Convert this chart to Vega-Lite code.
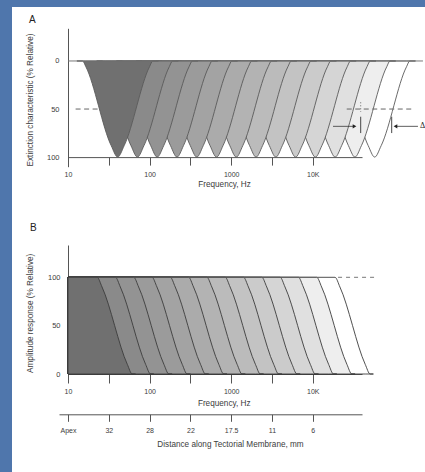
{
  "$schema": "https://vega.github.io/schema/vega-lite/v6.json",
  "background": "#4f76ac",
  "padding": {"left": 12, "top": 7, "right": 0, "bottom": 0},
  "bounds": "flush",
  "spacing": 0,
  "config": {
    "view": {"fill": "white", "stroke": null},
    "font": "Liberation Sans",
    "axis": {
      "labelFont": "Liberation Sans", "titleFont": "Liberation Sans",
      "labelColor": "#3c3c3c", "titleColor": "#3c3c3c",
      "labelFontSize": 7, "titleFontSize": 8.2, "titleFontWeight": "normal",
      "domainColor": "#555555", "tickColor": "#555555", "grid": false,
      "labelFlush": false, "labelOverlap": false, "labelBound": false
    }
  },
  "datasets": {
    "curvesA": [
      {"curve":14,"frequency":18145,"extinction":0},{"curve":14,"frequency":21319,"extinction":0},{"curve":14,"frequency":23375,"extinction":6},{"curve":14,"frequency":47726,"extinction":88},{"curve":14,"frequency":57380,"extinction":100},{"curve":14,"frequency":68986,"extinction":88},{"curve":14,"frequency":140851,"extinction":6},{"curve":14,"frequency":154440,"extinction":0},{"curve":14,"frequency":181452,"extinction":0},
      {"curve":13,"frequency":10387,"extinction":0},{"curve":13,"frequency":12203,"extinction":0},{"curve":13,"frequency":13380,"extinction":6},{"curve":13,"frequency":27319,"extinction":88},{"curve":13,"frequency":32845,"extinction":100},{"curve":13,"frequency":39488,"extinction":88},{"curve":13,"frequency":80625,"extinction":6},{"curve":13,"frequency":88403,"extinction":0},{"curve":13,"frequency":103866,"extinction":0},
      {"curve":12,"frequency":5945,"extinction":0},{"curve":12,"frequency":6985,"extinction":0},{"curve":12,"frequency":7659,"extinction":6},{"curve":12,"frequency":15638,"extinction":88},{"curve":12,"frequency":18801,"extinction":100},{"curve":12,"frequency":22604,"extinction":88},{"curve":12,"frequency":46151,"extinction":6},{"curve":12,"frequency":50603,"extinction":0},{"curve":12,"frequency":59454,"extinction":0},
      {"curve":11,"frequency":3403,"extinction":0},{"curve":11,"frequency":3999,"extinction":0},{"curve":11,"frequency":4384,"extinction":6},{"curve":11,"frequency":8951,"extinction":88},{"curve":11,"frequency":10762,"extinction":100},{"curve":11,"frequency":12939,"extinction":88},{"curve":11,"frequency":26418,"extinction":6},{"curve":11,"frequency":28966,"extinction":0},{"curve":11,"frequency":34033,"extinction":0},
      {"curve":10,"frequency":1948,"extinction":0},{"curve":10,"frequency":2289,"extinction":0},{"curve":10,"frequency":2510,"extinction":6},{"curve":10,"frequency":5124,"extinction":88},{"curve":10,"frequency":6160,"extinction":100},{"curve":10,"frequency":7406,"extinction":88},{"curve":10,"frequency":15121,"extinction":6},{"curve":10,"frequency":16580,"extinction":0},{"curve":10,"frequency":19480,"extinction":0},
      {"curve":9,"frequency":1115,"extinction":0},{"curve":9,"frequency":1310,"extinction":0},{"curve":9,"frequency":1436,"extinction":6},{"curve":9,"frequency":2933,"extinction":88},{"curve":9,"frequency":3526,"extinction":100},{"curve":9,"frequency":4239,"extinction":88},{"curve":9,"frequency":8655,"extinction":6},{"curve":9,"frequency":9490,"extinction":0},{"curve":9,"frequency":11150,"extinction":0},
      {"curve":8,"frequency":638.3,"extinction":0},{"curve":8,"frequency":749.9,"extinction":0},{"curve":8,"frequency":822.3,"extinction":6},{"curve":8,"frequency":1679,"extinction":88},{"curve":8,"frequency":2018.5,"extinction":100},{"curve":8,"frequency":2427,"extinction":88},{"curve":8,"frequency":4955,"extinction":6},{"curve":8,"frequency":5433,"extinction":0},{"curve":8,"frequency":6383,"extinction":0},
      {"curve":7,"frequency":365.4,"extinction":0},{"curve":7,"frequency":429.3,"extinction":0},{"curve":7,"frequency":470.7,"extinction":6},{"curve":7,"frequency":961,"extinction":88},{"curve":7,"frequency":1155.4,"extinction":100},{"curve":7,"frequency":1389,"extinction":88},{"curve":7,"frequency":2836,"extinction":6},{"curve":7,"frequency":3110,"extinction":0},{"curve":7,"frequency":3654,"extinction":0},
      {"curve":6,"frequency":209.2,"extinction":0},{"curve":6,"frequency":245.7,"extinction":0},{"curve":6,"frequency":269.4,"extinction":6},{"curve":6,"frequency":550.1,"extinction":88},{"curve":6,"frequency":661.4,"extinction":100},{"curve":6,"frequency":795.2,"extinction":88},{"curve":6,"frequency":1623.5,"extinction":6},{"curve":6,"frequency":1780,"extinction":0},{"curve":6,"frequency":2091.5,"extinction":0},
      {"curve":5,"frequency":119.7,"extinction":0},{"curve":5,"frequency":140.7,"extinction":0},{"curve":5,"frequency":154.2,"extinction":6},{"curve":5,"frequency":314.9,"extinction":88},{"curve":5,"frequency":378.6,"extinction":100},{"curve":5,"frequency":455.2,"extinction":88},{"curve":5,"frequency":929.4,"extinction":6},{"curve":5,"frequency":1019,"extinction":0},{"curve":5,"frequency":1197,"extinction":0},
      {"curve":4,"frequency":68.53,"extinction":0},{"curve":4,"frequency":80.51,"extinction":0},{"curve":4,"frequency":88.28,"extinction":6},{"curve":4,"frequency":180.2,"extinction":88},{"curve":4,"frequency":216.7,"extinction":100},{"curve":4,"frequency":260.5,"extinction":88},{"curve":4,"frequency":531.9,"extinction":6},{"curve":4,"frequency":583.3,"extinction":0},{"curve":4,"frequency":685.3,"extinction":0},
      {"curve":3,"frequency":39.21,"extinction":0},{"curve":3,"frequency":46.07,"extinction":0},{"curve":3,"frequency":50.52,"extinction":6},{"curve":3,"frequency":103.1,"extinction":88},{"curve":3,"frequency":124,"extinction":100},{"curve":3,"frequency":149.1,"extinction":88},{"curve":3,"frequency":304.4,"extinction":6},{"curve":3,"frequency":333.8,"extinction":0},{"curve":3,"frequency":392.1,"extinction":0},
      {"curve":2,"frequency":22.45,"extinction":0},{"curve":2,"frequency":26.38,"extinction":0},{"curve":2,"frequency":28.92,"extinction":6},{"curve":2,"frequency":59.06,"extinction":88},{"curve":2,"frequency":71,"extinction":100},{"curve":2,"frequency":85.36,"extinction":88},{"curve":2,"frequency":174.3,"extinction":6},{"curve":2,"frequency":191.1,"extinction":0},{"curve":2,"frequency":224.5,"extinction":0},
      {"curve":1,"frequency":12.85,"extinction":0},{"curve":1,"frequency":15.1,"extinction":0},{"curve":1,"frequency":16.56,"extinction":6},{"curve":1,"frequency":33.8,"extinction":88},{"curve":1,"frequency":40.64,"extinction":100},{"curve":1,"frequency":48.86,"extinction":88},{"curve":1,"frequency":99.76,"extinction":6},{"curve":1,"frequency":109.4,"extinction":0},{"curve":1,"frequency":128.5,"extinction":0}
    ],
    "curvesB": [
      {"curve":14,"frequency":10,"amplitude":100},{"curve":14,"frequency":18729,"amplitude":100},{"curve":14,"frequency":21504,"amplitude":90},{"curve":14,"frequency":43905,"amplitude":10},{"curve":14,"frequency":50409,"amplitude":0},{"curve":14,"frequency":55273,"amplitude":0},
      {"curve":13,"frequency":10,"amplitude":100},{"curve":13,"frequency":11175,"amplitude":100},{"curve":13,"frequency":12831,"amplitude":90},{"curve":13,"frequency":26197,"amplitude":10},{"curve":13,"frequency":30078,"amplitude":0},{"curve":13,"frequency":32980,"amplitude":0},
      {"curve":12,"frequency":10,"amplitude":100},{"curve":12,"frequency":6668,"amplitude":100},{"curve":12,"frequency":7656,"amplitude":90},{"curve":12,"frequency":15631,"amplitude":10},{"curve":12,"frequency":17947,"amplitude":0},{"curve":12,"frequency":19679,"amplitude":0},
      {"curve":11,"frequency":10,"amplitude":100},{"curve":11,"frequency":3978,"amplitude":100},{"curve":11,"frequency":4567,"amplitude":90},{"curve":11,"frequency":9325,"amplitude":10},{"curve":11,"frequency":10707,"amplitude":0},{"curve":11,"frequency":11740,"amplitude":0},
      {"curve":10,"frequency":10,"amplitude":100},{"curve":10,"frequency":2374,"amplitude":100},{"curve":10,"frequency":2726,"amplitude":90},{"curve":10,"frequency":5565,"amplitude":10},{"curve":10,"frequency":6390,"amplitude":0},{"curve":10,"frequency":7006,"amplitude":0},
      {"curve":9,"frequency":10,"amplitude":100},{"curve":9,"frequency":1416,"amplitude":100},{"curve":9,"frequency":1626,"amplitude":90},{"curve":9,"frequency":3319,"amplitude":10},{"curve":9,"frequency":3811,"amplitude":0},{"curve":9,"frequency":4179,"amplitude":0},
      {"curve":8,"frequency":10,"amplitude":100},{"curve":8,"frequency":845.1,"amplitude":100},{"curve":8,"frequency":970.3,"amplitude":90},{"curve":8,"frequency":1981,"amplitude":10},{"curve":8,"frequency":2275,"amplitude":0},{"curve":8,"frequency":2494,"amplitude":0},
      {"curve":7,"frequency":10,"amplitude":100},{"curve":7,"frequency":504.2,"amplitude":100},{"curve":7,"frequency":578.9,"amplitude":90},{"curve":7,"frequency":1182,"amplitude":10},{"curve":7,"frequency":1357,"amplitude":0},{"curve":7,"frequency":1488,"amplitude":0},
      {"curve":6,"frequency":10,"amplitude":100},{"curve":6,"frequency":300.8,"amplitude":100},{"curve":6,"frequency":345.4,"amplitude":90},{"curve":6,"frequency":705.1,"amplitude":10},{"curve":6,"frequency":809.6,"amplitude":0},{"curve":6,"frequency":887.7,"amplitude":0},
      {"curve":5,"frequency":10,"amplitude":100},{"curve":5,"frequency":179.5,"amplitude":100},{"curve":5,"frequency":206.1,"amplitude":90},{"curve":5,"frequency":420.8,"amplitude":10},{"curve":5,"frequency":483.1,"amplitude":0},{"curve":5,"frequency":529.7,"amplitude":0},
      {"curve":4,"frequency":10,"amplitude":100},{"curve":4,"frequency":107.1,"amplitude":100},{"curve":4,"frequency":123,"amplitude":90},{"curve":4,"frequency":251.1,"amplitude":10},{"curve":4,"frequency":288.3,"amplitude":0},{"curve":4,"frequency":316.1,"amplitude":0},
      {"curve":3,"frequency":10,"amplitude":100},{"curve":3,"frequency":63.9,"amplitude":100},{"curve":3,"frequency":73.37,"amplitude":90},{"curve":3,"frequency":149.8,"amplitude":10},{"curve":3,"frequency":172,"amplitude":0},{"curve":3,"frequency":188.6,"amplitude":0},
      {"curve":2,"frequency":10,"amplitude":100},{"curve":2,"frequency":38.13,"amplitude":100},{"curve":2,"frequency":43.78,"amplitude":90},{"curve":2,"frequency":89.39,"amplitude":10},{"curve":2,"frequency":102.6,"amplitude":0},{"curve":2,"frequency":112.5,"amplitude":0},
      {"curve":1,"frequency":10,"amplitude":100},{"curve":1,"frequency":22.75,"amplitude":100},{"curve":1,"frequency":26.12,"amplitude":90},{"curve":1,"frequency":53.33,"amplitude":10},{"curve":1,"frequency":61.23,"amplitude":0},{"curve":1,"frequency":67.14,"amplitude":0}
    ]
  },
  "vconcat": [
    {
      "width": 413,
      "height": 198,
      "title": {"text": "A", "anchor": "start", "frame": "group", "dx": 17, "offset": -22.5, "baseline": "middle", "fontSize": 10, "fontWeight": "normal", "font": "Liberation Sans", "color": "#222222"},
      "layer": [
        {
          "data": {"name": "curvesA"},
          "mark": {"type": "area", "interpolate": "monotone", "stroke": "#5a5a5a", "strokeWidth": 0.9},
          "encoding": {
            "x": {"field": "frequency", "type": "quantitative",
                  "scale": {"type": "log", "domain": [10, 40100], "range": [56, 350], "nice": false},
                  "axis": {"orient": "bottom", "offset": -47.9, "values": [10, 31.62, 100, 316.2, 1000, 3162, 10000],
                           "labelExpr": "datum.value == 10 ? '10' : datum.value == 100 ? '100' : datum.value == 1000 ? '1000' : datum.value == 10000 ? '10K' : ''",
                           "tickSize": 8, "labelPadding": 9.7, "labelBaseline": "middle",
                           "title": "Frequency, Hz", "titleX": 212, "titleY": 27.7, "titleAlign": "center", "titleBaseline": "middle"}},
            "y": {"field": "extinction", "type": "quantitative", "stack": null,
                  "scale": {"domain": [-34, 110], "range": [21.3, 159.7], "nice": false, "zero": false},
                  "axis": {"orient": "left", "offset": -56, "values": [0, 50, 100], "tickSize": 0, "labelPadding": 9, "labelFontSize": 7.5,
                           "title": "Extinction characteristic (% Relative)", "titleX": -38, "titleY": 92.5, "titleAngle": 270, "titleAlign": "center", "titleBaseline": "middle"}},
            "color": {"field": "curve", "type": "ordinal", "legend": null,
                      "scale": {"domain": [1,2,3,4,5,6,7,8,9,10,11,12,13,14],
                                "range": ["#707070","#8a8a8a","#939393","#9b9b9b","#a3a3a3","#ababab","#b3b3b3","#bbbbbb","#c3c3c3","#cbcbcb","#d5d5d5","#e0e0e0","#eeeeee","#ffffff"]}}
          }
        },
        {
          "data": {"values": [{"from": 10, "to": 224000, "level": 0}]},
          "mark": {"type": "rule", "color": "#777777", "strokeWidth": 1},
          "encoding": {
            "x": {"field": "from", "type": "quantitative", "scale": {"type": "log", "domain": [10, 40100], "range": [56, 350], "nice": false}},
            "x2": {"field": "to"},
            "y": {"field": "level", "type": "quantitative", "scale": {"domain": [-34, 110], "range": [21.3, 159.7], "nice": false, "zero": false}}
          }
        },
        {
          "data": {"values": [{"from": 12.4, "to": 25, "level": 50}, {"from": 26060, "to": 162600, "level": 50}]},
          "mark": {"type": "rule", "color": "#666666", "strokeWidth": 1, "strokeDash": [5, 3.5]},
          "encoding": {
            "x": {"field": "from", "type": "quantitative", "scale": {"type": "log", "domain": [10, 40100], "range": [56, 350], "nice": false}},
            "x2": {"field": "to"},
            "y": {"field": "level", "type": "quantitative", "scale": {"domain": [-34, 110], "range": [21.3, 159.7], "nice": false, "zero": false}}
          }
        },
        {
          "data": {"values": [{"from": 17700, "to": 32500, "level": 68}, {"from": 103000, "to": 194500, "level": 68}]},
          "mark": {"type": "rule", "color": "#333333", "strokeWidth": 0.8},
          "encoding": {
            "x": {"field": "from", "type": "quantitative", "scale": {"type": "log", "domain": [10, 40100], "range": [56, 350], "nice": false}},
            "x2": {"field": "to"},
            "y": {"field": "level", "type": "quantitative", "scale": {"domain": [-34, 110], "range": [21.3, 159.7], "nice": false, "zero": false}}
          }
        },
        {
          "data": {"values": [{"at": 38650, "low": 58, "high": 75}, {"at": 92700, "low": 58, "high": 75}]},
          "mark": {"type": "rule", "color": "#333333", "strokeWidth": 0.9},
          "encoding": {
            "x": {"field": "at", "type": "quantitative", "scale": {"type": "log", "domain": [10, 40100], "range": [56, 350], "nice": false}},
            "y": {"field": "low", "type": "quantitative", "scale": {"domain": [-34, 110], "range": [21.3, 159.7], "nice": false, "zero": false}},
            "y2": {"field": "high"}
          }
        },
        {
          "data": {"values": [{"at": 38650, "low": 43, "high": 53}]},
          "mark": {"type": "rule", "color": "#444444", "strokeWidth": 0.8, "strokeDash": [1, 2]},
          "encoding": {
            "x": {"field": "at", "type": "quantitative", "scale": {"type": "log", "domain": [10, 40100], "range": [56, 350], "nice": false}},
            "y": {"field": "low", "type": "quantitative", "scale": {"domain": [-34, 110], "range": [21.3, 159.7], "nice": false, "zero": false}},
            "y2": {"field": "high"}
          }
        },
        {
          "data": {"values": [{"at": 32480, "level": 68, "direction": "right"}, {"at": 103100, "level": 68, "direction": "left"}]},
          "mark": {"type": "point", "filled": true, "size": 18, "color": "#222222", "opacity": 1},
          "encoding": {
            "x": {"field": "at", "type": "quantitative", "scale": {"type": "log", "domain": [10, 40100], "range": [56, 350], "nice": false}},
            "y": {"field": "level", "type": "quantitative", "scale": {"domain": [-34, 110], "range": [21.3, 159.7], "nice": false, "zero": false}},
            "shape": {"field": "direction", "type": "nominal", "legend": null, "scale": {"domain": ["right", "left"], "range": ["triangle-right", "triangle-left"]}}
          }
        },
        {
          "data": {"values": [{"at": 205600, "level": 68, "label": "Δ"}]},
          "mark": {"type": "text", "align": "left", "baseline": "middle", "fontSize": 8, "font": "Liberation Serif", "color": "#222222"},
          "encoding": {
            "x": {"field": "at", "type": "quantitative", "scale": {"type": "log", "domain": [10, 40100], "range": [56, 350], "nice": false}},
            "y": {"field": "level", "type": "quantitative", "scale": {"domain": [-34, 110], "range": [21.3, 159.7], "nice": false, "zero": false}},
            "text": {"field": "label"}
          }
        }
      ]
    },
    {
      "width": 413,
      "height": 267,
      "title": {"text": "B", "anchor": "start", "frame": "group", "dx": 18, "offset": -33, "baseline": "middle", "fontSize": 10, "fontWeight": "normal", "font": "Liberation Sans", "color": "#222222"},
      "resolve": {"scale": {"x": "independent"}, "axis": {"x": "independent"}},
      "layer": [
        {
          "data": {"name": "curvesB"},
          "mark": {"type": "area", "interpolate": "monotone", "stroke": "#3c3c3c", "strokeWidth": 0.9},
          "encoding": {
            "x": {"field": "frequency", "type": "quantitative",
                  "scale": {"type": "log", "domain": [10, 40100], "range": [56, 350], "nice": false},
                  "axis": {"orient": "bottom", "offset": -98, "values": [10, 31.62, 100, 316.2, 1000, 3162, 10000],
                           "labelExpr": "datum.value == 10 ? '10' : datum.value == 100 ? '100' : datum.value == 1000 ? '1000' : datum.value == 10000 ? '10K' : ''",
                           "tickSize": 9, "labelPadding": 8.7, "labelBaseline": "middle",
                           "title": "Frequency, Hz", "titleX": 211.7, "titleY": 29.7, "titleAlign": "center", "titleBaseline": "middle"}},
            "y": {"field": "amplitude", "type": "quantitative", "stack": null,
                  "scale": {"domain": [0, 133.4], "range": [169, 40], "nice": false, "zero": false},
                  "axis": {"orient": "left", "offset": -56, "values": [0, 50, 100], "tickSize": 0, "labelPadding": 8, "labelFontSize": 7.5,
                           "title": "Amplitude response (% Relative)", "titleX": -38, "titleY": 107.8, "titleAngle": 270, "titleAlign": "center", "titleBaseline": "middle"}},
            "color": {"field": "curve", "type": "ordinal", "legend": null,
                      "scale": {"domain": [1,2,3,4,5,6,7,8,9,10,11,12,13,14],
                                "range": ["#666666","#737373","#7d7d7d","#868686","#8f8f8f","#989898","#a1a1a1","#aaaaaa","#b4b4b4","#bebebe","#c8c8c8","#d8d8d8","#eeeeee","#ffffff"]}}
          }
        },
        {
          "data": {"values": [{"from": 20400, "to": 62900, "level": 100}]},
          "mark": {"type": "rule", "color": "#777777", "strokeWidth": 1, "strokeDash": [4, 4]},
          "encoding": {
            "x": {"field": "from", "type": "quantitative",
                  "scale": {"type": "log", "domain": [7.76, 40100], "range": [47, 350], "nice": false},
                  "axis": {"orient": "bottom", "offset": -57.7, "values": [10, 31.62, 100, 316.2, 1000, 3162, 10000],
                           "labelExpr": "datum.value < 20 ? 'Apex' : datum.value < 50 ? '32' : datum.value < 200 ? '28' : datum.value < 500 ? '22' : datum.value < 2000 ? '17.5' : datum.value < 5000 ? '11' : '6'",
                           "tickSize": 7, "labelPadding": 9, "labelBaseline": "middle",
                           "title": "Distance along Tectorial Membrane, mm", "titleX": 218, "titleY": 29.9, "titleAlign": "center", "titleBaseline": "middle"}},
            "x2": {"field": "to"},
            "y": {"field": "level", "type": "quantitative", "scale": {"domain": [0, 133.4], "range": [169, 40], "nice": false, "zero": false}}
          }
        }
      ]
    }
  ]
}
